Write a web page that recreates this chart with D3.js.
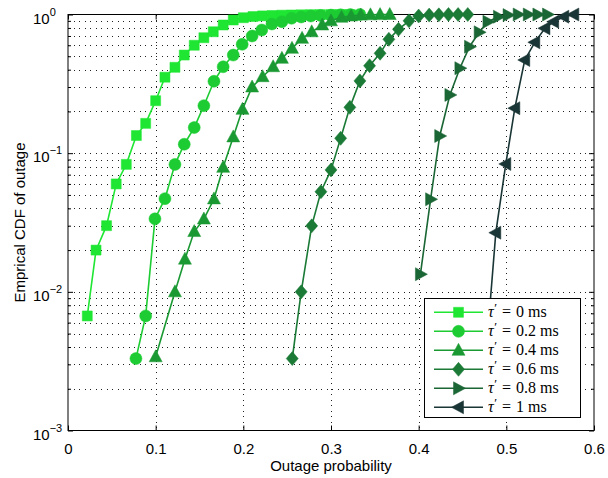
<!DOCTYPE html>
<html><head><meta charset="utf-8">
<script src="https://cdn.jsdelivr.net/npm/d3@7"></script>
<style>body{margin:0;background:#fff}svg{display:block}</style>
</head><body><svg id="c" width="608" height="478"></svg>
<script>
// ---- data ----
const seriesNames = ["0", "0.2", "0.4", "0.6", "0.8", "1"];
const x0ms = [0.022,0.032,0.044,0.055,0.0665,0.078,0.0886,0.1,0.1106,0.122,0.1326,0.144,0.155,0.1657,0.177,0.1885,0.2,0.211,0.222,0.233,0.244,0.255,0.266,0.277,0.288,0.3,0.311,0.322];
const y0ms = [0.0067,0.020,0.030,0.060,0.083,0.134,0.164,0.239,0.353,0.416,0.51,0.6,0.68,0.751,0.84,0.913,0.948,0.967,0.977,0.984,0.989,0.992,0.995,0.997,0.998,0.999,1,1];
const x02ms = [0.0775,0.0886,0.0992,0.1106,0.122,0.1326,0.144,0.155,0.1665,0.177,0.1885,0.1987,0.21,0.221,0.2326,0.244,0.255,0.266,0.277,0.288,0.3,0.311,0.322,0.333];
const y02ms = [0.0033,0.0067,0.0336,0.047,0.083,0.116,0.153,0.22,0.33,0.42,0.51,0.61,0.70,0.773,0.854,0.888,0.94,0.96,0.975,0.985,0.99,0.995,0.998,1];
const x04ms = [0.1,0.122,0.1334,0.144,0.155,0.1665,0.177,0.1885,0.199,0.21,0.222,0.234,0.244,0.2555,0.267,0.278,0.29,0.3,0.312,0.323,0.334,0.345,0.356,0.367];
const y04ms = [0.0034,0.01,0.0172,0.0272,0.0335,0.0468,0.079,0.131,0.207,0.30,0.356,0.42,0.483,0.57,0.673,0.75,0.84,0.90,0.955,0.975,0.99,0.995,0.998,1];
const x06ms = [0.2558,0.266,0.278,0.2885,0.3,0.311,0.3215,0.333,0.344,0.356,0.366,0.377,0.389,0.4,0.412,0.423,0.434,0.445,0.456];
const y06ms = [0.0033,0.01,0.0299,0.0527,0.0757,0.128,0.214,0.332,0.427,0.525,0.662,0.782,0.90,0.975,0.99,0.995,1,1,1];
const x08ms = [0.402,0.4136,0.424,0.4356,0.447,0.458,0.469,0.479,0.491,0.502,0.5135,0.525,0.536,0.547];
const y08ms = [0.0134,0.0465,0.133,0.263,0.41,0.586,0.744,0.887,0.964,0.99,1,1,1,1];
const x1ms = [0.4766,0.488,0.4994,0.5097,0.521,0.5325,0.544,0.554,0.5656,0.577];
const y1ms = [0.0034,0.0267,0.0836,0.211,0.47,0.63,0.795,0.887,0.964,1];
const xTicks = [0,0.1,0.2,0.3,0.4,0.5,0.6];
const xTickLabels = ["0","0.1","0.2","0.3","0.4","0.5","0.6"];
const yTicks = [1e-3,1e-2,1e-1,1];
const yTickExponents = ["−3","−2","−1","0"];
const xLabel = "Outage probability";
const yLabel = "Emprical CDF of outage";

// ---- styles ----
const colors = ["#1ee632","#1ccc32","#1a9933","#1a7a36","#1a6634","#1a3535"];
const L = 68, R = 594, T = 14.5, B = 430.5;

const svg = d3.select("#c");
const x = d3.scaleLinear().domain([0,0.6]).range([L,R]);
const y = d3.scaleLog().domain([1e-3,1]).range([B,T]);

// minor log values
const minorY = [];
for (let e=-3; e<0; e++) for (let k=2;k<=9;k++) minorY.push(k*Math.pow(10,e));

// grid
const grid = svg.append("g").attr("stroke","#222").attr("stroke-width",1).attr("stroke-dasharray","1,4.5").attr("shape-rendering","crispEdges");
grid.selectAll("line.v").data(xTicks.slice(1,-1)).join("line")
  .attr("x1",d=>Math.round(x(d))+0.5).attr("x2",d=>Math.round(x(d))+0.5).attr("y1",T).attr("y2",B);
grid.selectAll("line.h").data(yTicks.slice(1,-1).concat(minorY)).join("line")
  .attr("y1",d=>Math.round(y(d))+0.5).attr("y2",d=>Math.round(y(d))+0.5).attr("x1",L).attr("x2",R);

// axes
const fontAx = "'Liberation Sans', Arial, sans-serif";
function styleAxis(g){ g.select(".domain").remove(); g.selectAll("line").attr("stroke","#000"); }
const gx = svg.append("g").attr("transform",`translate(0,${B})`)
  .call(d3.axisBottom(x).tickValues(xTicks).tickSize(-5).tickPadding(13).tickFormat((d,i)=>xTickLabels[i]))
  .call(styleAxis);
gx.selectAll("text").attr("font-family",fontAx).attr("font-size",15).attr("fill","#000");
svg.append("g").attr("transform",`translate(0,${T})`)
  .call(d3.axisTop(x).tickValues(xTicks).tickSize(-5).tickFormat(""))
  .call(styleAxis);
svg.append("g").attr("transform",`translate(${L},0)`)
  .call(d3.axisLeft(y).tickValues(yTicks).tickSize(-5).tickFormat(""))
  .call(styleAxis);
svg.append("g").attr("transform",`translate(${L},0)`)
  .call(d3.axisLeft(y).tickValues(minorY).tickSize(-3).tickFormat(""))
  .call(styleAxis);
svg.append("g").attr("transform",`translate(${R},0)`)
  .call(d3.axisRight(y).tickValues(yTicks).tickSize(-5).tickFormat(""))
  .call(styleAxis);
svg.append("g").attr("transform",`translate(${R},0)`)
  .call(d3.axisRight(y).tickValues(minorY).tickSize(-3).tickFormat(""))
  .call(styleAxis);
// y tick labels with superscripts
const yl = svg.append("g").attr("font-family",fontAx).attr("fill","#000");
yTicks.forEach((v,i)=>{
  const t = yl.append("text").attr("x",33).attr("y",y(v)+9).attr("font-size",15);
  t.append("tspan").text("10");
  t.append("tspan").attr("dy",-8).attr("font-size",11).text(yTickExponents[i]);
});

// frame
svg.append("rect").attr("x",L).attr("y",T).attr("width",R-L).attr("height",B-T)
  .attr("fill","none").attr("stroke","#000").attr("stroke-width",1);

// axis labels
svg.append("text").attr("x",(L+R)/2).attr("y",471).attr("text-anchor","middle")
  .attr("font-family",fontAx).attr("font-size",15).text(xLabel);
svg.append("text").attr("transform",`translate(25,${(T+B)/2}) rotate(-90)`).attr("text-anchor","middle")
  .attr("font-family",fontAx).attr("font-size",15).text(yLabel);

// marker shapes
const sq = {draw(c){const h=5;c.rect(-h,-h,2*h,2*h);}};
const circ = {draw(c){c.moveTo(6,0);c.arc(0,0,6,0,2*Math.PI);}};
const triUp = {draw(c){c.moveTo(0,-7);c.lineTo(6.5,5);c.lineTo(-6.5,5);c.closePath();}};
const diam = {draw(c){c.moveTo(0,-7);c.lineTo(6,0);c.lineTo(0,7);c.lineTo(-6,0);c.closePath();}};
const triR = {draw(c){c.moveTo(7,0);c.lineTo(-5,6.5);c.lineTo(-5,-6.5);c.closePath();}};
const triL = {draw(c){c.moveTo(-7,0);c.lineTo(5,6.5);c.lineTo(5,-6.5);c.closePath();}};
const markers = [sq,circ,triUp,diam,triR,triL];

const series = [[x0ms,y0ms],[x02ms,y02ms],[x04ms,y04ms],[x06ms,y06ms],[x08ms,y08ms],[x1ms,y1ms]]
  .map(([xs,ys],i)=>({name:seriesNames[i], pts:xs.map((v,j)=>[v,ys[j]]), color:colors[i], marker:markers[i]}));

const line = d3.line().x(d=>x(d[0])).y(d=>y(d[1]));
series.forEach(s=>{
  const g = svg.append("g");
  g.append("path").attr("d",line(s.pts)).attr("fill","none").attr("stroke",s.color).attr("stroke-width",1.6);
  g.selectAll("path.m").data(s.pts).join("path").attr("class","m")
    .attr("transform",d=>`translate(${x(d[0])},${y(d[1])})`)
    .attr("d",d3.symbol().type(s.marker)()).attr("fill",s.color).attr("stroke",s.color).attr("stroke-width",0.5);
});

// legend
const lg = svg.append("g");
lg.append("rect").attr("x",424.5).attr("y",298.5).attr("width",156).attr("height",119)
  .attr("fill","#fff").attr("stroke","#000").attr("stroke-width",1);
series.forEach((s,i)=>{
  const yy = 312.3 + i*19;
  lg.append("line").attr("x1",434).attr("x2",483).attr("y1",yy).attr("y2",yy).attr("stroke",s.color).attr("stroke-width",1.6);
  lg.append("path").attr("transform",`translate(458.5,${yy})`).attr("d",d3.symbol().type(s.marker)())
    .attr("fill",s.color).attr("stroke",s.color).attr("stroke-width",0.5);
  const t = lg.append("text").attr("x",488).attr("y",yy+5).attr("font-family","'Liberation Serif','DejaVu Serif',serif").attr("font-size",16);
  t.append("tspan").attr("font-style","italic").text("τ");
  t.append("tspan").attr("dy",-5).attr("dx",0.5).attr("font-size",13).text("′");
  t.append("tspan").attr("dy",5).attr("dx",5).text("=");
  t.append("tspan").attr("dx",5).text(s.name);
  t.append("tspan").attr("dx",4).text("ms");
});
</script></body></html>
